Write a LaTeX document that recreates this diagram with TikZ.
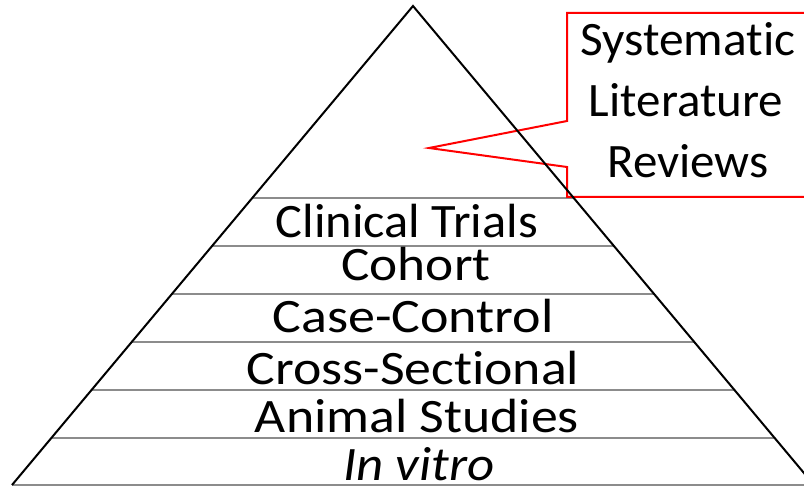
\documentclass[tikz,border=0pt]{standalone}
\usepackage{fontspec}
\setmainfont{Carlito}[Ligatures=NoCommon]
\usetikzlibrary{calc}
\newcommand{\sx}[2]{\scalebox{#1}[1]{#2}}
\tikzset{
  lbl/.style={font=\fontsize{48}{56}\selectfont, inner sep=0pt, anchor=base, text depth=0pt},
  side/.style={draw=black, line width=2pt, line join=miter},
  band/.style={draw=gray!90, line width=1.3pt},
  callout/.style={draw=red, line width=2pt, line join=miter}
}
\begin{document}
\begin{tikzpicture}[x=1pt, y=-1pt]
\useasboundingbox (0,0) rectangle (804,486);
\fill[white] (0,0) rectangle (804,486);
\coordinate (A) at (413,6);
\coordinate (BL) at (12,485);
\coordinate (BR) at (814,485);
% band lines
\foreach \t/\n in {0.4008/1, 0.5010/2, 0.6013/3, 0.7015/4, 0.8017/5, 0.9019/6}{
  \coordinate (l\n) at ($(A)!\t!(BL)$);
  \coordinate (r\n) at ($(A)!\t!(BR)$);
  \draw[band] (l\n) -- (r\n);
}
\draw[band] (BL) -- (BR);
% callout
\coordinate (c1) at (567,13);
\coordinate (c2) at (812,13);
\coordinate (c3) at (812,197);
\coordinate (c4) at (567,197);
\coordinate (c5) at (567,167);
\coordinate (tip) at (429,148);
\coordinate (c6) at (567,121);
\draw[callout] (c1) -- (c2) -- (c3) -- (c4) -- (c5) -- (tip) -- (c6) -- cycle;
% pyramid sides
\draw[side] (BL) -- (A) -- (BR);
% labels
\node[lbl] (t1) at (407,238) {\sx{1.05}{Clinical Trials}};
\node[lbl] (t2) at (416,281) {\sx{1.11}{Cohort}};
\node[lbl] (t3) at (413,333) {\sx{1.125}{Case-Control}};
\node[lbl] (t4) at (413,385) {\sx{1.12}{Cross-Sectional}};
\node[lbl] (t5) at (417,433) {\sx{1.12}{Animal Studies}};
\node[lbl] (t6) at (419,481) {\sx{1.10}{\itshape In vitro}};
\node[lbl] (s1) at (688,56) {\sx{1.03}{Systematic}};
\node[lbl] (s2) at (686,117) {\sx{1.02}{Literature}};
\node[lbl] (s3) at (688,178) {\sx{1.02}{Reviews}};
\end{tikzpicture}
\end{document}
